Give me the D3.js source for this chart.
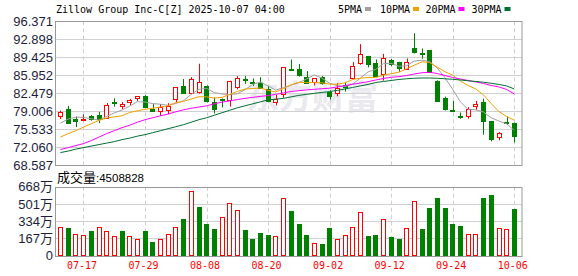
<!DOCTYPE html>
<html>
<head>
<meta charset="utf-8">
<script src="https://cdn.jsdelivr.net/npm/d3@7/dist/d3.min.js"></script>
<style>
body{margin:0;background:#fff;}
</style>
</head>
<body>
<div id="chart"></div>
<script>
var dates=["07-14","07-15","07-16","07-17","07-18","07-21","07-22","07-23","07-24","07-25","07-28","07-29","07-30","07-31",
"08-01","08-04","08-05","08-06","08-07","08-08","08-11","08-12","08-13","08-14","08-15","08-18","08-19","08-20","08-21","08-22","08-25","08-26","08-27","08-28","08-29",
"09-02","09-03","09-04","09-05","09-08","09-09","09-10","09-11","09-12","09-15","09-16","09-17","09-18","09-19","09-22","09-23","09-24","09-25","09-26","09-29","09-30",
"10-01","10-02","10-03","10-06"];
var open=[78.07,79.48,77.5,77.35,78.1,78.3,77.75,80.75,80.06,80.76,
81.59,81.97,79.54,78.97,79.29,81.25,83.9,82.68,82.8,83.9,
80.82,81.4,81.08,83.64,85.2,84.7,84.47,83.25,80.89,82.36,
87.1,87.16,85.56,84.53,85.56,82.81,82.55,84.02,85.56,88.25,
89.65,88.37,86.14,88.88,88.44,87.22,91.19,90.2,90.8,84.85,
81.53,79.25,78.05,78.01,80.19,80.82,77.05,74.04,76.9,76.73];
var high=[79.16,80.06,78.0,78.4,78.3,78.9,80.6,81.5,80.82,81.4,
81.95,82.1,80.44,80.4,80.57,83.7,85.24,85.6,88.18,84.0,
81.66,81.5,84.9,85.8,85.8,85.35,85.6,83.9,82.17,87.54,
89.0,88.12,86.77,85.4,85.8,83.06,84.4,84.5,88.5,91.96,
89.7,89.01,90.1,89.1,88.57,89.2,94.07,91.12,90.85,84.98,
81.85,81.0,78.78,79.8,81.0,81.46,77.1,75.0,78.0,76.8];
var low=[77.5,76.7,75.96,77.1,77.2,76.7,77.5,79.9,79.41,80.2,
81.0,79.8,79.03,78.14,78.46,80.7,82.36,82.36,82.42,80.7,
78.58,79.75,79.93,83.25,84.3,83.9,83.4,80.76,80.12,81.59,
86.8,85.7,84.28,84.0,84.15,81.27,81.9,82.81,85.5,87.99,
87.48,85.8,84.92,87.73,86.58,87.03,90.17,89.14,86.6,80.89,
79.16,78.9,77.56,77.56,79.29,74.49,73.21,73.4,76.35,73.0];
var close=[78.9,76.73,77.18,77.55,77.5,77.6,80.19,80.6,80.38,81.21,
81.9,79.86,79.16,79.74,80.12,83.65,82.55,85.3,84.66,81.0,
79.54,81.2,84.79,85.37,85.0,84.6,83.5,81.0,81.4,87.48,
86.9,85.94,84.4,85.37,84.4,82.04,83.45,83.64,87.8,90.04,
88.12,85.88,89.2,88.05,87.22,88.57,90.42,90.1,86.65,81.0,
79.35,79.2,78.0,79.42,80.5,77.24,73.66,74.81,76.8,74.17];
// volume in 万
var volume=[274,264,212,202,235,274,241,192,235,192,
163,235,127,163,212,274,352,622,469,303,
254,378,505,437,244,156,215,196,192,554,
430,303,196,124,108,264,163,202,280,427,
186,196,352,176,156,264,528,254,460,557,
460,303,284,212,205,557,587,264,254,450.8828];
// MA values before the window starts
var ma5Lead=[76.73,77.5,77.88,77.82];
var ma10Lead=[74.04,74.68,75.26,75.96,76.6,77.24,77.69,77.94,78.14];
var ma20=[71.62,72.00,72.39,72.77,73.35,74.02,74.69,75.26,75.84,76.32,
76.90,77.38,77.76,78.14,78.47,78.91,79.29,79.58,79.83,80.06,
80.45,80.77,81.02,81.27,81.50,81.69,81.88,82.04,82.27,82.56,
82.84,82.98,83.13,83.25,83.36,83.46,83.71,83.96,84.23,84.47,
84.72,85.05,85.34,85.57,85.68,85.91,86.20,86.45,86.53,86.30,
85.91,85.53,85.24,84.95,84.67,84.38,83.99,83.71,83.23,82.36];
var ma30=[71.04,71.33,71.71,72.00,72.29,72.58,72.87,73.15,73.54,73.83,
74.21,74.50,74.88,75.26,75.65,76.03,76.42,76.90,77.38,77.76,
78.24,78.72,79.20,79.68,80.06,80.45,80.83,81.21,81.35,81.50,
81.79,82.08,82.27,82.46,82.65,82.81,83.04,83.32,83.61,83.90,
84.19,84.57,84.76,84.95,85.15,85.28,85.38,85.43,85.43,85.38,
85.28,85.18,85.05,84.90,84.76,84.61,84.42,84.19,83.90,83.32];
var priceTicks=[68.587,72.060,75.533,79.006,82.479,85.952,89.425,92.898,96.371];
var volTicks=[0,167,334,501,668];
var dateTicks=["07-17","07-29","08-08","08-20","09-02","09-12","09-24","10-06"];
var maNames=["5PMA","10PMA","20PMA","30PMA"];
var maColors=["#a0a0a0","#f0a000","#ff00ff","#006f35"];

var movingAvg=function(n,lead)
{
  return close.map(function(c,i){
    if(i<n-1) return lead[i];
    return d3.mean(close.slice(i-n+1,i+1));
  });
};
var ma5=movingAvg(5,ma5Lead);
var ma10=movingAvg(10,ma10Lead);

var width=578, height=276;
var left=55.5, right=522;
var red="#ff0000", green="#008000";

var svg=d3.select("#chart").append("svg")
          .attr("width",width)
          .attr("height",height)
          .style("display","block");

var x=d3.scalePoint().domain(dates).range([60.4,514.2]);
var bw=x.step()*0.6;
var y=d3.scaleLinear().domain([68.587,96.371]).range([165.3,21.3]);
var yv=d3.scaleLinear().domain([0,668]).range([255.5,186.7]);
var px=function(v){ return Math.round(v)+0.5; };

// title + legend
svg.append("text")
   .attr("x",56).attr("y",13)
   .attr("font-family","DejaVu Sans Mono").attr("font-size",10)
   .attr("fill","#000")
   .text("Zillow Group Inc-C[Z] 2025-10-07 04:00");
var legX=[338,380,425.5,471.5];
maNames.forEach(function(n,i){
  var t=svg.append("text")
     .attr("x",legX[i]).attr("y",13)
     .attr("font-family","DejaVu Sans Mono").attr("font-size",10)
     .attr("fill","#000").text(n);
  svg.append("rect")
     .attr("x",legX[i]+n.length*6+3).attr("y",7)
     .attr("width",6).attr("height",4)
     .attr("fill",maColors[i]);
});

// watermark
svg.append("text")
   .attr("x",246).attr("y",109)
   .attr("font-family","Noto Sans CJK SC").attr("font-size",33)
   .attr("font-weight","bold")
   .attr("fill","#e9e9ee")
   .text("东方财富");

// grids
var grid=svg.append("g");
grid.selectAll(".hp").data(priceTicks.slice(1,-1)).enter().append("line")
    .attr("x1",left).attr("x2",right)
    .attr("y1",function(d){return px(y(d));}).attr("y2",function(d){return px(y(d));})
    .attr("stroke","#d0d0d0");
grid.selectAll(".hv").data(volTicks.slice(1,-1)).enter().append("line")
    .attr("x1",left).attr("x2",right)
    .attr("y1",function(d){return px(yv(d));}).attr("y2",function(d){return px(yv(d));})
    .attr("stroke","#d0d0d0");
dateTicks.forEach(function(d){
  var xx=px(x(d));
  [[y(96.371),y(68.587)],[yv(668),yv(0)]].forEach(function(r){
    grid.append("line")
        .attr("x1",xx).attr("x2",xx).attr("y1",r[0]).attr("y2",r[1])
        .attr("stroke","#cfcfcf").attr("stroke-dasharray","4,3");
  });
});

// candles
var cdata=dates.map(function(d,i){
  return {date:d,o:open[i],h:high[i],l:low[i],c:close[i],v:volume[i],
          up:close[i]>=open[i],
          vup:i==0?close[i]>=open[i]:close[i]>=close[i-1]};
});
var candle=svg.append("g").selectAll("g").data(cdata).enter().append("g");
candle.append("line")
      .attr("x1",function(d){return px(x(d.date));})
      .attr("x2",function(d){return px(x(d.date));})
      .attr("y1",function(d){return y(d.h);})
      .attr("y2",function(d){return y(d.l);})
      .attr("stroke",function(d){return d.up?red:green;});
candle.append("rect")
      .attr("x",function(d){return Math.round(x(d.date)-bw/2)+0.5;})
      .attr("width",Math.round(bw)-1)
      .attr("y",function(d){return Math.round(y(Math.max(d.o,d.c)))+0.5;})
      .attr("height",function(d){return Math.max(1,Math.round(y(Math.min(d.o,d.c))-y(Math.max(d.o,d.c))));})
      .attr("fill",function(d){return d.up?"#fff":green;})
      .attr("stroke",function(d){return d.up?red:green;});

// moving averages
var mas=[ma5,ma10,ma20,ma30];
var line=d3.line()
           .x(function(d,i){return x(dates[i]);})
           .y(function(d){return y(d);});
mas.forEach(function(m,i){
  svg.append("path")
     .attr("d",line(m))
     .attr("fill","none")
     .attr("stroke",maColors[i])
     .attr("stroke-width",1);
});

// volume bars
svg.append("g").selectAll("rect").data(cdata).enter().append("rect")
   .attr("x",function(d){return Math.round(x(d.date)-bw/2)+0.5;})
   .attr("width",Math.round(bw)-1)
   .attr("y",function(d){return Math.round(yv(d.v))+0.5;})
   .attr("height",function(d){return Math.round(yv(0))-Math.round(yv(d.v))-1;})
   .attr("fill",function(d){return d.vup?"#fff":green;})
   .attr("stroke",function(d){return d.vup?red:green;});

// frames
svg.append("rect")
   .attr("x",left).attr("y",px(y(96.371)))
   .attr("width",right-left).attr("height",Math.round(y(68.587))-Math.round(y(96.371)))
   .attr("fill","none").attr("stroke","#999");
svg.append("rect")
   .attr("x",left).attr("y",px(yv(668)))
   .attr("width",right-left).attr("height",Math.round(yv(0))-Math.round(yv(668)))
   .attr("fill","none").attr("stroke","#999");

// axes labels
var labCol="#1e1e3c";
svg.append("g").selectAll("text").data(priceTicks).enter().append("text")
   .attr("x",53).attr("y",function(d){return y(d);})
   .attr("dy","0.36em")
   .attr("text-anchor","end")
   .attr("font-family","Liberation Sans, Arial").attr("font-size",13)
   .attr("fill",labCol)
   .text(function(d){return d3.format(".3f")(d);});
svg.append("g").selectAll("text").data(volTicks).enter().append("text")
   .attr("x",53).attr("y",function(d){return yv(d);})
   .attr("dy","0.36em")
   .attr("text-anchor","end")
   .attr("font-family","Liberation Sans, Noto Sans CJK SC").attr("font-size",13)
   .attr("fill",labCol)
   .text(function(d){return d==0?"0":d+"万";});
svg.append("g").selectAll("text").data(dateTicks).enter().append("text")
   .attr("x",function(d){return x(d)-1.5;}).attr("y",269)
   .attr("text-anchor","middle")
   .attr("font-family","DejaVu Sans Mono").attr("font-size",10)
   .attr("fill",red)
   .text(function(d){return d;});

// volume caption
var cap=svg.append("text").attr("x",57).attr("y",182).attr("fill","#000");
cap.append("tspan").attr("font-family","Noto Sans CJK SC").attr("font-size",13).text("成交量");
cap.append("tspan").attr("font-family","Liberation Sans").attr("font-size",11.5)
   .text(":"+Math.round(volume[volume.length-1]*10000));
</script>
</body>
</html>
